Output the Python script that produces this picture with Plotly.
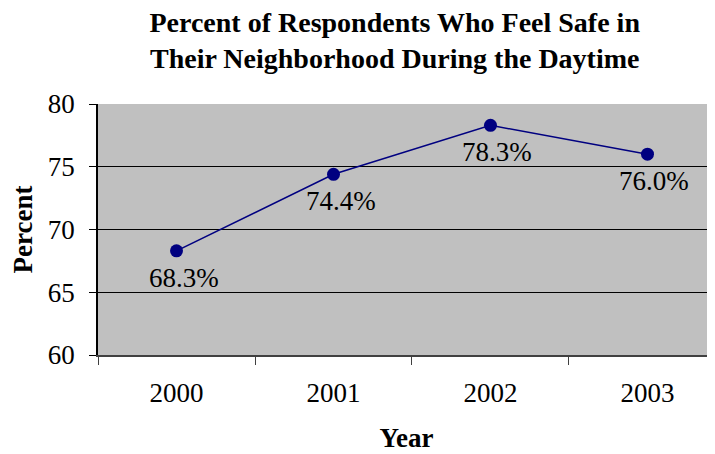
import plotly.graph_objects as go

years = ["2000", "2001", "2002", "2003"]
percent = [68.3, 74.4, 78.3, 76.0]
labels = ["68.3%", "74.4%", "78.3%", "76.0%"]
y_ticks = [60, 65, 70, 75, 80]

serif = "Liberation Serif, Times New Roman, serif"

fig = go.Figure()
fig.add_trace(go.Scatter(
    x=years, y=percent, mode="lines+markers",
    line=dict(color="#000080", width=1.5),
    marker=dict(color="#000080", size=13),
    cliponaxis=False, showlegend=False,
))
for i, (val, lab) in enumerate(zip(percent, labels)):
    fig.add_annotation(
        x=i, y=val, xref="x", yref="y", text=lab, showarrow=False,
        xanchor="center", yanchor="top", xshift=7, yshift=-10,
        font=dict(family=serif, size=27, color="black"),
    )

fig.update_layout(
    width=707, height=446,
    margin=dict(l=90, r=0, t=96, b=99),
    paper_bgcolor="white", plot_bgcolor="#C0C0C0",
    title=dict(
        text="<b>Percent of Respondents Who Feel Safe in<br>Their Neighborhood During the Daytime</b>",
        x=0.547, xanchor="center", y=0.947, yanchor="top",
        font=dict(family=serif, size=28, color="black"),
    ),
    font=dict(family=serif, color="black"),
)
fig.update_xaxes(
    type="category", range=[-0.5, 3.43], tickson="boundaries",
    ticks="outside", ticklen=8, tickcolor="#404040",
    showline=True, linecolor="#404040", linewidth=1.5,
    showgrid=False, tickfont=dict(family=serif, size=27),
    ticklabelstandoff=13,
    title=dict(text="<b>Year</b>", font=dict(family=serif, size=27), standoff=21),
)
fig.update_yaxes(
    range=[60, 80], tickvals=y_ticks,
    ticks="outside", ticklen=7, tickcolor="black",
    showline=True, linecolor="black", linewidth=1.5,
    showgrid=True, gridcolor="black", gridwidth=1,
    zeroline=False, tickfont=dict(family=serif, size=27),
    ticklabelstandoff=9,
    title=dict(text="<b>Percent</b>", font=dict(family=serif, size=27), standoff=13),
)
fig.write_html("out.html")
